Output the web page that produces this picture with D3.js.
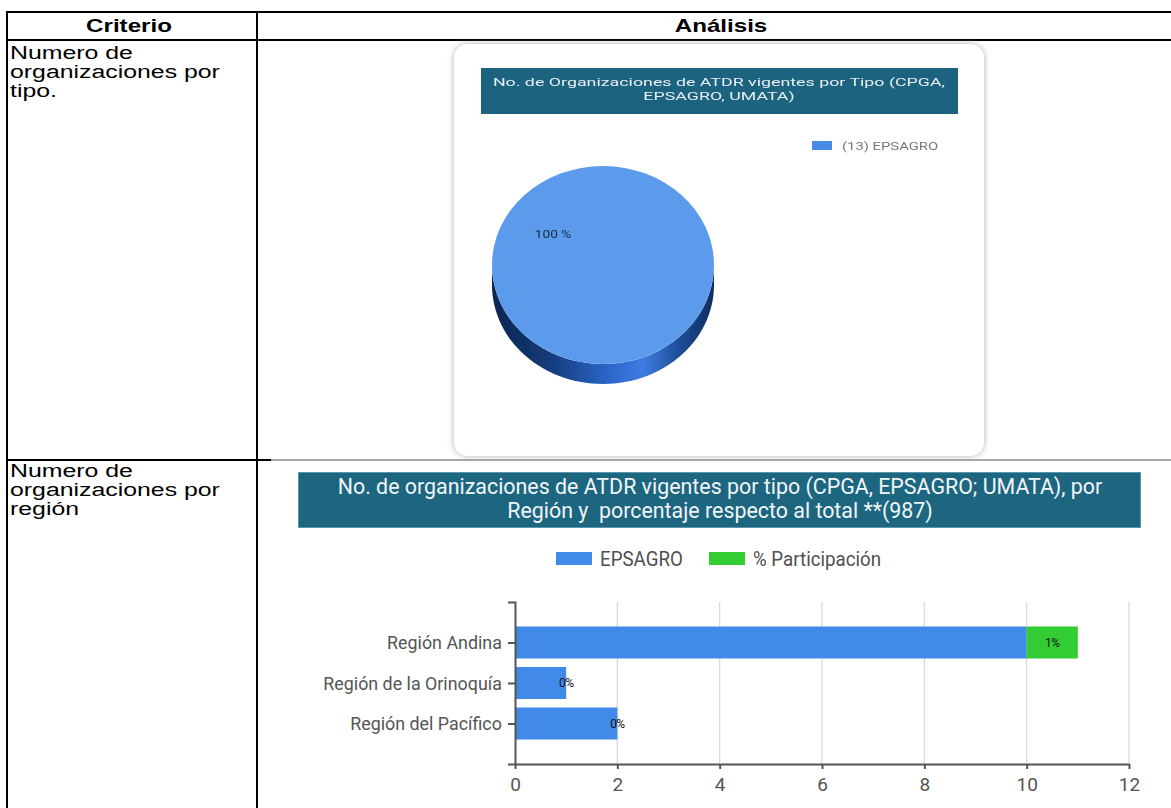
<!DOCTYPE html>
<html>
<head>
<meta charset="utf-8">
<script src="https://cdn.jsdelivr.net/npm/d3@7"></script>
<style>
  html, body { margin: 0; padding: 0; background: #fff; }
  svg { display: block; }
  text { white-space: pre; }
</style>
</head>
<body>
<svg id="page" width="1171" height="808"></svg>
<script>
// ---- Table text ----
const headers = ["Criterio", "Análisis"];
const row1Lines = ["Numero de", "organizaciones por", "tipo."];
const row2Lines = ["Numero de", "organizaciones por", "región"];

// ---- Pie: organizations by type ----
const pieTitle = ["No. de Organizaciones de ATDR vigentes por Tipo (CPGA,", "EPSAGRO, UMATA)"];
const pieCategories = ["(13) EPSAGRO"];
const pieValues = [13];
const pieLabels = ["100 %"];

// ---- Bars: organizations by region ----
const barTitle = ["No. de organizaciones de ATDR vigentes por tipo (CPGA, EPSAGRO; UMATA), por",
                  "Región y  porcentaje respecto al total **(987)"];
const regions = ["Región Andina", "Región de la Orinoquía", "Región del Pacífico"];
const epsagro = [10, 1, 2];
const participacion = [1, 0, 0];
const participacionLabels = ["1%", "0%", "0%"];
const seriesNames = ["EPSAGRO", "% Participación"];
const xTicks = [0, 2, 4, 6, 8, 10, 12];

const svg = d3.select("#page");
const defs = svg.append("defs");

// places a text at (x, y) with a horizontal stretch factor
const placed = (x, y, sx) => `translate(${x},${y}) scale(${sx},1)`;

// ================= table frame =================
const tableFont = "'Liberation Sans', Arial, sans-serif";
const tableStretch = 1.38;
const frame = svg.append("g").attr("stroke", "#000").attr("stroke-width", 2);
frame.append("line").attr("x1", 6).attr("x2", 1171).attr("y1", 12).attr("y2", 12);
frame.append("line").attr("x1", 6).attr("x2", 1171).attr("y1", 40).attr("y2", 40);
frame.append("line").attr("x1", 7).attr("x2", 7).attr("y1", 11).attr("y2", 808);
frame.append("line").attr("x1", 257).attr("x2", 257).attr("y1", 11).attr("y2", 808);
frame.append("line").attr("x1", 6).attr("x2", 271).attr("y1", 460).attr("y2", 460);
svg.append("line").attr("x1", 271).attr("x2", 1171).attr("y1", 460).attr("y2", 460)
  .attr("stroke", "#8a8a8a").attr("stroke-width", 1.5);

svg.selectAll("text.hdr").data(headers).join("text")
  .attr("class", "hdr")
  .attr("transform", (d, i) => placed(i === 0 ? 129 : 721, 32, tableStretch))
  .attr("text-anchor", "middle")
  .attr("font-family", tableFont).attr("font-weight", "bold").attr("font-size", 17.5)
  .text(d => d);

function cellLines(lines, y0) {
  svg.append("g").selectAll("text").data(lines).join("text")
    .attr("transform", (d, i) => placed(10, y0 + i * 19, tableStretch))
    .attr("font-family", tableFont).attr("font-size", 18)
    .text(d => d);
}
cellLines(row1Lines, 59);
cellLines(row2Lines, 477);

// ================= pie panel =================
const soft = defs.append("filter").attr("id", "soft");
soft.append("feGaussianBlur").attr("stdDeviation", 0.55);
const shadow = defs.append("filter").attr("id", "shadow")
  .attr("x", "-5%").attr("y", "-5%").attr("width", "110%").attr("height", "110%");
shadow.append("feGaussianBlur").attr("in", "SourceAlpha").attr("stdDeviation", 3).attr("result", "b");
shadow.append("feFlood").attr("flood-color", "#9a9a9a").attr("flood-opacity", 0.8);
shadow.append("feComposite").attr("in2", "b").attr("operator", "in").attr("result", "s");
const sm = shadow.append("feMerge");
sm.append("feMergeNode").attr("in", "s");
sm.append("feMergeNode").attr("in", "SourceGraphic");

const pieG = svg.append("g").attr("filter", "url(#soft)");
pieG.append("rect")
  .attr("x", 454).attr("y", 44).attr("width", 530).attr("height", 412).attr("rx", 14)
  .attr("fill", "#fff").attr("filter", "url(#shadow)");

pieG.append("rect")
  .attr("x", 481).attr("y", 68).attr("width", 477).attr("height", 46)
  .attr("fill", "#1f6480");
pieG.append("g").selectAll("text").data(pieTitle).join("text")
  .attr("transform", (d, i) => placed(719, 86 + i * 14, 1.55))
  .attr("text-anchor", "middle")
  .attr("font-family", "Roboto, sans-serif").attr("font-size", 11.5)
  .attr("fill", "#e8eef2")
  .text(d => d);

// pie legend
const pieColor = d3.scaleOrdinal().domain(pieCategories).range(["#4a8ae6"]);
const pieLeg = pieG.append("g").selectAll("g").data(pieCategories).join("g")
  .attr("transform", (d, i) => `translate(812,${141 + i * 14})`);
pieLeg.append("rect").attr("width", 20).attr("height", 9).attr("fill", d => pieColor(d));
pieLeg.append("text").attr("transform", placed(30, 8.5, 1.35))
  .attr("font-family", "Roboto, sans-serif").attr("font-size", 11).attr("fill", "#777")
  .text(d => d);

// 3-D pie: side band + elliptical top face
const cx = 603, cy = 265, rx = 111, ry = 99, depth = 20;
const sideGrad = defs.append("linearGradient").attr("id", "pieSide")
  .attr("x1", "0%").attr("x2", "100%").attr("y1", "0%").attr("y2", "0%");
[[0, "#0b2550"], [0.25, "#143a78"], [0.55, "#2e6ad0"], [0.68, "#3c7ce0"], [0.85, "#1d4b95"], [1, "#0f2d60"]]
  .forEach(([o, c]) => sideGrad.append("stop").attr("offset", o).attr("stop-color", c));

// lower half of the top rim, then back along the bottom rim
const sidePts = [];
const steps = 60;
for (let k = 0; k <= steps; k++) {
  const a = Math.PI - Math.PI * k / steps;
  sidePts.push([cx + rx * Math.cos(a), cy + ry * Math.sin(a)]);
}
for (let k = steps; k >= 0; k--) {
  const a = Math.PI - Math.PI * k / steps;
  sidePts.push([cx + rx * Math.cos(a), cy + depth + ry * Math.sin(a)]);
}
pieG.append("path")
  .attr("d", d3.line()(sidePts) + "Z")
  .attr("fill", "url(#pieSide)");

const arcs = d3.pie().sort(null)(pieValues);
const arc = d3.arc().innerRadius(0).outerRadius(rx);
pieG.append("g")
  .attr("transform", `translate(${cx},${cy}) scale(1,${ry / rx})`)
  .selectAll("path").data(arcs).join("path")
  .attr("d", arc)
  .attr("fill", "#5b9bec");

pieG.append("g").selectAll("text").data(pieLabels).join("text")
  .attr("transform", placed(553, 238, 1.3))
  .attr("text-anchor", "middle")
  .attr("font-family", "Roboto, sans-serif").attr("font-size", 10.5).attr("fill", "#1a2a40")
  .text(d => d);

// ================= bar chart =================
const chartFont = "Roboto, 'Noto Sans', sans-serif";
const barG = svg.append("g");

barG.append("rect")
  .attr("x", 298.5).attr("y", 472.5).attr("width", 842).attr("height", 55)
  .attr("fill", "#1c6680").attr("stroke", "#5a97ad").attr("stroke-width", 1);
barG.append("g").selectAll("text").data(barTitle).join("text")
  .attr("transform", (d, i) => placed(720, 494 + i * 24, 0.995))
  .attr("text-anchor", "middle")
  .attr("font-family", chartFont).attr("font-size", 21.5)
  .attr("fill", "#f2f5f7")
  .text(d => d);

const barColor = d3.scaleOrdinal().domain(seriesNames).range(["#418ae9", "#33cc33"]);

// legend
const legX = [556, 709];
const leg = barG.append("g").selectAll("g").data(seriesNames).join("g")
  .attr("transform", (d, i) => `translate(${legX[i]},552)`);
leg.append("rect").attr("width", 36).attr("height", 13).attr("fill", d => barColor(d));
leg.append("text").attr("transform", placed(44, 13.5, 0.96))
  .attr("font-family", chartFont).attr("font-size", 19.5).attr("fill", "#505050")
  .text(d => d);

const x = d3.scaleLinear().domain([0, 12]).range([515, 1129]);
const y = d3.scalePoint().domain(regions).range([602, 764]).padding(1);
const bh = 32;

// gridlines
barG.append("g").selectAll("line").data(xTicks.slice(1)).join("line")
  .attr("x1", d => x(d)).attr("x2", d => x(d))
  .attr("y1", 602).attr("y2", 764)
  .attr("stroke", "#d8d8d8").attr("stroke-width", 1.2);

// stacked bars
const rows = regions.map((r, i) => ({ region: r, eps: epsagro[i], part: participacion[i], label: participacionLabels[i] }));
barG.append("g").selectAll("rect").data(rows).join("rect")
  .attr("x", x(0)).attr("y", d => y(d.region) - bh / 2)
  .attr("width", d => x(d.eps) - x(0)).attr("height", bh)
  .attr("fill", barColor(seriesNames[0]));
barG.append("g").selectAll("rect").data(rows).join("rect")
  .attr("x", d => x(d.eps)).attr("y", d => y(d.region) - bh / 2)
  .attr("width", d => x(d.eps + d.part) - x(d.eps)).attr("height", bh)
  .attr("fill", barColor(seriesNames[1]));
barG.append("g").selectAll("text").data(rows).join("text")
  .attr("x", d => x(d.eps + d.part / 2)).attr("y", d => y(d.region) + 4)
  .attr("text-anchor", "middle")
  .attr("font-family", chartFont).attr("font-size", 12).attr("letter-spacing", -0.6)
  .attr("fill", "#111")
  .text(d => d.label);

// axes
const xAxis = barG.append("g").attr("transform", "translate(0,764)")
  .call(d3.axisBottom(x).tickValues(xTicks).tickSize(5).tickSizeOuter(0).tickPadding(9));
const yAxis = barG.append("g").attr("transform", "translate(515,0)")
  .call(d3.axisLeft(y).tickSize(7).tickSizeOuter(7).tickPadding(7));
[xAxis, yAxis].forEach(a => {
  a.selectAll("path, line").attr("stroke", "#555").attr("stroke-width", 2);
  a.selectAll("text").attr("font-family", chartFont).attr("font-size", 19).attr("fill", "#555");
});
yAxis.selectAll("text").attr("transform", "scale(0.94,1)");
</script>
</body>
</html>
